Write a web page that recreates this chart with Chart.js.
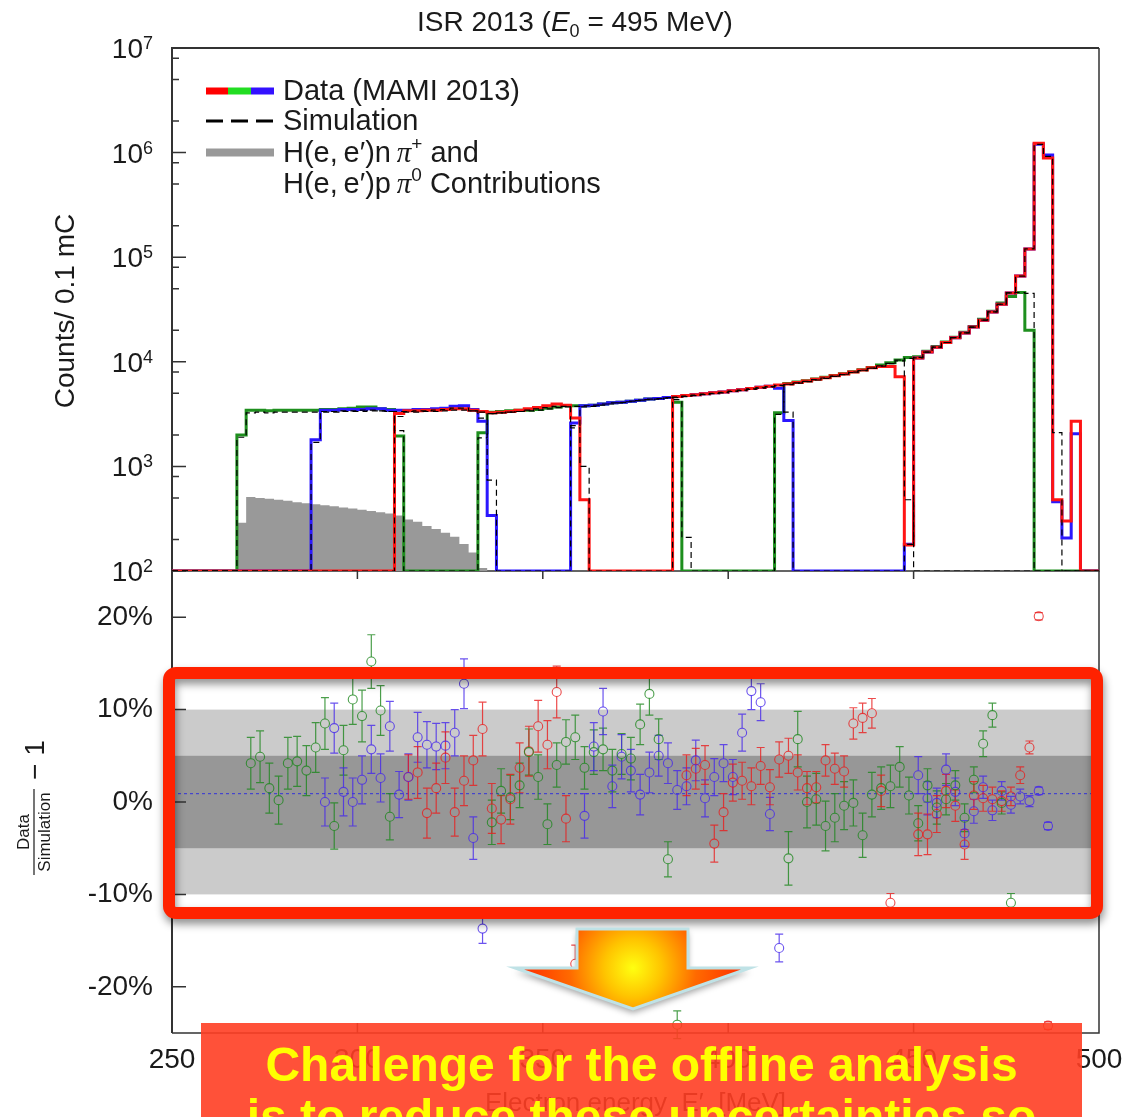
<!DOCTYPE html>
<html>
<head>
<meta charset="utf-8">
<script src="https://cdn.jsdelivr.net/npm/chart.js@4.4.0/dist/chart.umd.min.js"></script>
<style>
  html, body { margin: 0; padding: 0; background: #fff; }
  #page { position: relative; width: 1144px; height: 1117px; overflow: hidden; background: #fff; }
  #spectrum { position: absolute; left: 0; top: 0; }
  #ratio { position: absolute; left: 0; top: 560px; }
  #banner {
    position: absolute; left: 201px; top: 1023px; width: 881px; height: 130px;
    box-sizing: border-box; padding-top: 16px;
    background: rgba(255, 62, 36, 0.9);
    color: #ffff00; font: bold 48px 'Liberation Sans', Arial, sans-serif;
    line-height: 52px; text-align: center; white-space: nowrap;
  }
</style>
</head>
<body>
<div id="page">
  <canvas id="spectrum" width="1144" height="600"></canvas>
  <canvas id="ratio" width="1144" height="557"></canvas>
  <div id="banner">Challenge for the offline analysis<br>is to reduce these uncertainties so</div>
</div>
<script>
// ---- binning / axes ----
const E_MIN = 250, E_MAX = 500, BIN = 2.5;   // MeV
const COUNT_FLOOR = 100;                      // empty bins sit on the bottom of the log axis
const xTicks = [300, 350, 400, 450];
const decades = [2, 3, 4, 5, 6, 7];
const minorMantissas = [2, 5, 8];
const ratioTicks = [-20, -10, 0, 10, 20];
const outerBand = 10, innerBand = 5;          // systematic bands (%)
const ratioRef = 0.9;                         // dotted reference line (%)

// ---- counts per 2.5 MeV bin: [low edge of first bin, counts] per spectrometer setting ----
const redCounts = [
  [310, [3200, 3400, 3400, 3450, 3450, 3500, 3550, 3550, 3450, 3350, 3250, 3300, 3350, 3450, 3550, 3650, 3800, 3950, 3850, 2900, 480]],
  [385, [4650, 4750, 4850, 4950, 5050, 5150, 5300, 5400, 5550, 5700, 5850, 6000, 6150, 6350, 6550, 6800, 7050, 7350, 7650, 8000, 8350, 8750, 9000, 9000, 7200]],
  [447.5, [177, 10900, 12400, 13800, 15300, 17000, 18900, 21500, 25000, 30000, 35500, 45500, 66000, 120000, 1230000, 890000, 480, 300, 2700]]
];
const greenCounts = [
  [267.5, [2000, 3450, 3450, 3400, 3450, 3450, 3450, 3450, 3450, 3500, 3500, 3550, 3600, 3700, 3700, 3550, 3500, 1950]],
  [332.5, [2100, 3300, 3350, 3400, 3450, 3450, 3500, 3600, 3700, 3800, 3800, 3800, 3850, 3950, 4050, 4100, 4200, 4300, 4400, 4450, 4550, 4100]],
  [412.5, [3250, 6200, 6400, 6600, 6850, 7100, 7400, 7700, 8050, 8400, 8800, 9300, 9800, 10400, 11000, 11200, 12600, 14000, 15500, 17200, 19200, 21800, 25500, 30500, 36500, 42000, 46000, 20000]]
];
const blueCounts = [
  [287.5, [1800, 3450, 3450, 3500, 3500, 3500, 3550, 3550, 3450, 3450, 3450, 3500, 3500, 3550, 3600, 3750, 3800, 3500, 2700, 340]],
  [357.5, [2600, 3800, 3850, 3950, 4050, 4100, 4200, 4300, 4400, 4450, 4550, 4650, 4750, 4850, 4950, 5050, 5150, 5300, 5400, 5550, 5700, 5850, 5600, 2750]],
  [447.5, [180, 10900, 12400, 13800, 15300, 17000, 18900, 21500, 25000, 30000, 35500, 45500, 66000, 120000, 1200000, 950000, 460, 207, 2050]]
];
const simRedCounts = [
  [310, [3000, 3300, 3300, 3350, 3350, 3400, 3450, 3450, 3400, 3300, 3200, 3250, 3300, 3350, 3450, 3550, 3650, 3750, 3750, 2330, 1000]],
  [385, [4550, 4650, 4750, 4850, 4950, 5050, 5200, 5300, 5450, 5600, 5750, 5900, 6050, 6250, 6450, 6700, 6950, 7250, 7550, 7900, 8250, 8650, 9100, 9600, 10400, 480]]
];
const simGreenCounts = [
  [267.5, [1900, 3250, 3300, 3250, 3300, 3300, 3300, 3300, 3300, 3350, 3350, 3400, 3400, 3450, 3450, 3400, 3350, 2200]],
  [332.5, [1870, 3200, 3250, 3300, 3350, 3400, 3450, 3550, 3650, 3700, 3750, 3800, 3850, 3950, 4050, 4100, 4200, 4300, 4400, 4450, 4550, 4350, 210]],
  [412.5, [3150, 6100, 6300, 6500, 6750, 7000, 7300, 7600, 7950, 8300, 8700, 9150, 9650, 10200, 10800, 11000, 12400, 13800, 15300, 17000, 18900, 21500, 25000, 30000, 35500, 45500, 46000, 45000]]
];
const simBlueCounts = [
  [287.5, [1700, 3300, 3300, 3350, 3350, 3350, 3400, 3400, 3350, 3350, 3350, 3400, 3400, 3450, 3500, 3600, 3600, 3400, 2900, 740]],
  [357.5, [2450, 3700, 3750, 3850, 3950, 4050, 4150, 4250, 4350, 4400, 4500, 4600, 4700, 4800, 4900, 5000, 5100, 5250, 5350, 5500, 5650, 5800, 5950, 3300]],
  [447.5, [180, 10900, 12400, 13800, 15300, 17000, 18900, 21500, 25000, 30000, 35500, 45500, 66000, 120000, 1200000, 920000, 2100]]
];
const pionCounts = [
  [267.5, [290, 510, 500, 490, 480, 470, 455, 445, 435, 425, 415, 405, 395, 385, 375, 365, 355, 340, 310, 296, 270, 252, 232, 212, 181, 150, 107]]
];

// ---- Data/Simulation - 1 (%): [centre of first bin, values, errors] ----
const redRatio = [
  [313.75, [2.7, 3.2, -1.2, 1.5, 4.8, -1.1, 2.3, 4.5, 7.9, -0.7, -1.9, 0.3, 3.7, 5.5, 8.2, 6.2, 11.9, -1.8, -17.5],
           [2.4, 2.8, 2.7, 2.7, 2.8, 2.6, 2.7, 2.7, 2.9, 2.7, 2.6, 2.7, 2.7, 2.7, 2.8, 2.6, 2.8, 2.5, 2.0]],
  [388.75, [2.9, 3.6, 4.0, -4.5, -1.1, 2.1, 2.3, 1.7, 3.9, 1.6, 4.6, 5.0, 3.2, 1.5, 1.6, 4.5, 3.6, 3.3, 8.5, 9.1, 9.6, 1.2, -10.9],
           [2.2, 2.2, 2.1, 2.0, 2.0, 2.0, 2.0, 2.0, 2.0, 1.9, 1.9, 1.9, 1.9, 1.8, 1.7, 1.7, 1.7, 1.7, 1.7, 1.6, 1.6, 1.7, 1.0]],
  [451.25, [-3.5, -3.5, -1.3, 1.2, -0.4, -4.6, 0.7, 0.4, 0.3, 0.1, 0.6, 2.9, 5.9, 20.1, -24.2],
           [2.3, 2.2, 2.0, 1.8, 1.7, 1.6, 1.5, 1.4, 1.3, 1.1, 1.0, 0.9, 0.7, 0.4, 0.4]]
];
const greenRatio = [
  [271.25, [4.2, 4.9, 1.5, 0.2, 4.2, 4.4, 3.4, 5.9, 8.5, -2.6, 5.6, 11.1, 9.3, 15.2, 9.9, -1.6],
           [2.8, 2.8, 2.7, 2.6, 2.8, 2.7, 2.7, 2.7, 2.8, 2.5, 2.7, 2.7, 2.8, 2.9, 2.7, 2.5]],
  [336.25, [-2.2, 1.2, 0.5, 1.8, 5.4, 2.7, -2.4, 4.0, 6.5, 7.0, 3.7, 5.4, 5.7, 3.4, 5.2, 4.7, 8.4, 11.7, 6.8, -6.2, -24.1],
           [2.4, 2.4, 2.4, 2.4, 2.5, 2.4, 2.2, 2.4, 2.4, 2.4, 2.3, 2.4, 2.3, 2.3, 2.2, 2.3, 2.2, 2.3, 2.2, 1.9, 1.5]],
  [416.25, [-6.1, 6.8, 0.0, 0.3, -2.6, -1.7, -0.4, -0.1, -3.6, 0.8, 1.5, 1.7, 3.8, 0.7, -2.3, 1.8, -0.6, 0.3, 1.8, -1.7, 2.4, 6.3, 9.4, -0.1, -10.9],
           [2.9, 3.0, 2.8, 2.8, 2.7, 2.6, 2.6, 2.5, 2.4, 2.4, 2.3, 2.3, 2.2, 2.0, 1.9, 1.8, 1.8, 1.7, 1.6, 1.5, 1.4, 1.4, 1.3, 1.2, 1.0]]
];
const blueRatio = [
  [291.25, [0.0, 8.0, 1.1, 0.0, 2.4, 5.7, 2.6, 8.2, 0.8, 2.7, 7.0, 6.2, 6.0, 6.1, 7.5, 12.8, -3.9, -13.7],
           [2.6, 2.7, 2.6, 2.6, 2.6, 2.6, 2.6, 2.7, 2.5, 2.5, 2.7, 2.5, 2.5, 2.5, 2.5, 2.7, 2.3, 1.6]],
  [361.25, [-1.5, 6.0, 9.8, 1.7, 4.9, 3.4, 0.8, 3.2, 5.0, 4.2, 1.3, 1.7, 4.5, 0.4, 2.7, 4.2, 2.7, 7.5, 12.0, 10.8, -1.3, -15.8],
           [2.4, 2.6, 2.5, 2.3, 2.4, 2.3, 2.2, 2.2, 2.2, 2.2, 2.1, 2.0, 2.2, 2.0, 2.0, 2.0, 1.9, 2.0, 2.0, 2.0, 1.8, 1.5]],
  [451.25, [2.9, 0.4, -0.1, 3.5, 1.1, -3.4, -1.0, 1.6, -0.9, 1.2, -0.3, 0.6, 0.1, 1.2, -2.6],
           [2.0, 1.8, 1.6, 1.7, 1.5, 1.4, 1.3, 1.2, 1.1, 1.0, 0.9, 0.8, 0.6, 0.4, 0.4]]
];

// ---- styling ----
const SANS = "'Liberation Sans', Arial, Helvetica, sans-serif";
const SERIF = "'Liberation Serif', 'Times New Roman', serif";
const INK = '#1a1a1a';
const RED = '#ff1414', GREEN = '#1e8f1e', BLUE = '#2b17ff';
const MARKER_R = 4.5, CAP = 4;
const RATIO_TOP = 560;   // page offset of the ratio canvas

// step histogram points, one per bin low edge plus the closing edge
function histPoints(segments) {
  const n = Math.round((E_MAX - E_MIN) / BIN);
  const vals = new Array(n).fill(COUNT_FLOOR);
  segments.forEach(([lo, counts]) => {
    const first = Math.round((lo - E_MIN) / BIN);
    counts.forEach((c, k) => { vals[first + k] = c; });
  });
  const pts = vals.map((v, i) => ({ x: E_MIN + i * BIN, y: v }));
  pts.push({ x: E_MAX, y: vals[n - 1] });
  return pts;
}

function ratioPoints(segments) {
  const pts = [];
  segments.forEach(([centre, vals, errs]) => {
    vals.forEach((v, k) => pts.push({ x: centre + k * BIN, y: v, e: errs[k] }));
  });
  return pts;
}

// draws mixed-font text pieces on one baseline
function drawRuns(ctx, runs, x, y, align) {
  let total = 0;
  runs.forEach(r => { ctx.font = r.font; r.w = ctx.measureText(r.text).width; total += r.w; });
  let cx = align === 'center' ? x - total / 2 : align === 'right' ? x - total : x;
  ctx.textAlign = 'left';
  ctx.textBaseline = 'alphabetic';
  runs.forEach(r => { ctx.font = r.font; ctx.fillText(r.text, cx, y + (r.dy || 0)); cx += r.w; });
}

const f = (size, style) => `${style ? style + ' ' : ''}${size}px ${SANS}`;

const spectrumDecor = {
  id: 'spectrumDecor',
  beforeDatasetsDraw(chart) {
    const { ctx, chartArea: a, scales: { y } } = chart;
    ctx.save();
    ctx.strokeStyle = '#333';
    ctx.lineWidth = 2;
    ctx.beginPath();
    ctx.moveTo(a.left, a.bottom); ctx.lineTo(a.left, a.top); ctx.lineTo(a.right, a.top);
    ctx.stroke();
    ctx.lineWidth = 1.5;
    ctx.beginPath();
    ctx.moveTo(a.right, a.top); ctx.lineTo(a.right, a.bottom); ctx.lineTo(a.left, a.bottom);
    ctx.stroke();
    // inward ticks on the log axis
    ctx.lineWidth = 1.5;
    ctx.beginPath();
    decades.forEach(d => {
      const py = y.getPixelForValue(Math.pow(10, d));
      ctx.moveTo(a.left, py); ctx.lineTo(a.left + 14, py);
      if (d < 7) {
        minorMantissas.forEach(m => {
          const my = y.getPixelForValue(m * Math.pow(10, d));
          ctx.moveTo(a.left, my); ctx.lineTo(a.left + 7, my);
        });
      }
    });
    ctx.stroke();
    ctx.restore();
  },
  afterDraw(chart) {
    const { ctx, chartArea: a, scales: { y } } = chart;
    ctx.save();
    ctx.fillStyle = INK;

    // title
    drawRuns(ctx, [
      { text: 'ISR 2013 (', font: f(28) },
      { text: 'E', font: f(28, 'italic') },
      { text: '0', font: f(18), dy: 6 },
      { text: ' = 495 MeV)', font: f(28) }
    ], 575, 31, 'center');

    // decade labels
    decades.forEach(d => {
      const py = y.getPixelForValue(Math.pow(10, d));
      drawRuns(ctx, [
        { text: '10', font: f(28) },
        { text: String(d), font: f(18), dy: -9 }
      ], a.left - 19, py + 10, 'right');
    });

    // axis title
    ctx.save();
    ctx.translate(66, 311);
    ctx.rotate(-Math.PI / 2);
    ctx.font = f(28);
    ctx.textAlign = 'center';
    ctx.textBaseline = 'middle';
    ctx.fillText('Counts/ 0.1 mC', 0, 0);
    ctx.restore();

    // legend
    const lx0 = 206, lx1 = 274, tx = 283;
    ctx.lineCap = 'butt';
    ctx.lineWidth = 7;
    [['#ff0000', 206, 228], ['#22dd22', 228, 251], ['#3311ff', 251, 274]].forEach(([c, x0, x1]) => {
      ctx.strokeStyle = c;
      ctx.beginPath(); ctx.moveTo(x0, 91); ctx.lineTo(x1, 91); ctx.stroke();
    });
    ctx.strokeStyle = '#000';
    ctx.lineWidth = 3;
    ctx.setLineDash([17, 8]);
    ctx.beginPath(); ctx.moveTo(lx0, 121); ctx.lineTo(lx1, 121); ctx.stroke();
    ctx.setLineDash([]);
    ctx.strokeStyle = '#999';
    ctx.lineWidth = 8;
    ctx.beginPath(); ctx.moveTo(lx0, 152.5); ctx.lineTo(lx1, 152.5); ctx.stroke();

    ctx.fillStyle = INK;
    drawRuns(ctx, [{ text: 'Data (MAMI 2013)', font: f(29) }], tx, 100, 'left');
    drawRuns(ctx, [{ text: 'Simulation', font: f(29) }], tx, 130, 'left');
    drawRuns(ctx, [
      { text: 'H(e,\u2009e\u2032)n\u2009', font: f(29) },
      { text: '\u03c0', font: `italic 29px ${SERIF}` },
      { text: '+', font: f(19), dy: -12 },
      { text: ' and', font: f(29) }
    ], tx, 162, 'left');
    drawRuns(ctx, [
      { text: 'H(e,\u2009e\u2032)p\u2009', font: f(29) },
      { text: '\u03c0', font: `italic 29px ${SERIF}` },
      { text: '0', font: f(19), dy: -12 },
      { text: ' Contributions', font: f(29) }
    ], tx, 193, 'left');
    ctx.restore();
  }
};

const ratioDecor = {
  id: 'ratioDecor',
  beforeDatasetsDraw(chart) {
    const { ctx, chartArea: a, scales: { x, y } } = chart;
    ctx.save();
    // systematic bands
    const o1 = y.getPixelForValue(outerBand), o2 = y.getPixelForValue(-outerBand);
    const i1 = y.getPixelForValue(innerBand), i2 = y.getPixelForValue(-innerBand);
    ctx.fillStyle = '#cbcbcb';
    ctx.fillRect(a.left, o1, a.right - a.left, o2 - o1);
    ctx.fillStyle = '#979797';
    ctx.fillRect(a.left, i1, a.right - a.left, i2 - i1);
    // reference line
    const ry = y.getPixelForValue(ratioRef);
    ctx.strokeStyle = '#3434d8';
    ctx.lineWidth = 1;
    ctx.setLineDash([3, 3]);
    ctx.beginPath(); ctx.moveTo(a.left, ry); ctx.lineTo(a.right, ry); ctx.stroke();
    ctx.setLineDash([]);
    // frame
    ctx.strokeStyle = '#333';
    ctx.lineWidth = 2;
    ctx.beginPath(); ctx.moveTo(a.left, a.top); ctx.lineTo(a.left, a.bottom); ctx.stroke();
    ctx.lineWidth = 1.5;
    ctx.beginPath(); ctx.moveTo(a.left, a.bottom); ctx.lineTo(a.right, a.bottom); ctx.lineTo(a.right, a.top); ctx.stroke();
    // ticks
    ctx.beginPath();
    ratioTicks.forEach(v => {
      const py = y.getPixelForValue(v);
      ctx.moveTo(a.left, py); ctx.lineTo(a.left + 14, py);
    });
    xTicks.forEach(v => {
      const px = x.getPixelForValue(v);
      ctx.moveTo(px, a.top); ctx.lineTo(px, a.top + 8);
      ctx.moveTo(px, a.bottom); ctx.lineTo(px, a.bottom - 10);
    });
    ctx.stroke();
    // error bars, leaving the marker itself open
    ctx.lineWidth = 1.2;
    chart.data.datasets.forEach(ds => {
      ctx.strokeStyle = ds.borderColor;
      ctx.beginPath();
      ds.data.forEach(p => {
        const px = x.getPixelForValue(p.x);
        const py = y.getPixelForValue(p.y);
        const top = y.getPixelForValue(p.y + p.e);
        const bot = y.getPixelForValue(p.y - p.e);
        if (py - top > MARKER_R) {
          ctx.moveTo(px, top); ctx.lineTo(px, py - MARKER_R);
          ctx.moveTo(px, py + MARKER_R); ctx.lineTo(px, bot);
        }
        ctx.moveTo(px - CAP, top); ctx.lineTo(px + CAP, top);
        ctx.moveTo(px - CAP, bot); ctx.lineTo(px + CAP, bot);
      });
      ctx.stroke();
    });
    ctx.restore();
  },
  afterDraw(chart) {
    const { ctx } = chart;
    ctx.save();
    ctx.translate(0, -RATIO_TOP);   // page coordinates from here on

    // y title: Data / Simulation - 1
    ctx.save();
    ctx.translate(34, 832);
    ctx.rotate(-Math.PI / 2);
    ctx.fillStyle = INK;
    ctx.textAlign = 'center';
    ctx.textBaseline = 'alphabetic';
    ctx.font = f(17);
    ctx.fillText('Data', 0, -5);
    ctx.fillText('Simulation', 0, 16);
    ctx.strokeStyle = INK;
    ctx.lineWidth = 1.2;
    ctx.beginPath(); ctx.moveTo(-43, 0); ctx.lineTo(43, 0); ctx.stroke();
    ctx.textAlign = 'left';
    ctx.font = f(28);
    ctx.fillText('\u2212 1', 52, 10);
    ctx.restore();

    // highlight frame around the systematic bands
    ctx.save();
    ctx.shadowColor = 'rgba(0, 0, 0, 0.45)';
    ctx.shadowBlur = 8;
    ctx.shadowOffsetX = 1;
    ctx.shadowOffsetY = 5;
    ctx.strokeStyle = '#ff2200';
    ctx.lineWidth = 12;
    ctx.beginPath();
    ctx.roundRect(169, 673, 928, 240, 7);
    ctx.stroke();
    ctx.restore();

    // downward arrow
    ctx.save();
    const grad = ctx.createRadialGradient(633, 968, 0, 633, 968, 115);
    grad.addColorStop(0, '#ffff10');
    grad.addColorStop(0.25, '#ffc400');
    grad.addColorStop(0.55, '#ff6a00');
    grad.addColorStop(1, '#ff2800');
    ctx.beginPath();
    ctx.moveTo(577, 929); ctx.lineTo(688, 929); ctx.lineTo(688, 968); ctx.lineTo(750, 968);
    ctx.lineTo(633, 1009); ctx.lineTo(515, 968); ctx.lineTo(577, 968);
    ctx.closePath();
    ctx.shadowColor = 'rgba(0, 0, 0, 0.35)';
    ctx.shadowBlur = 6;
    ctx.shadowOffsetY = 4;
    ctx.fillStyle = grad;
    ctx.fill();
    ctx.shadowColor = 'transparent';
    ctx.strokeStyle = '#bfe2e6';
    ctx.lineWidth = 3;
    ctx.lineJoin = 'miter';
    ctx.stroke();
    ctx.restore();

    ctx.restore();
  }
};

const histLine = (label, segments, color, width, order, extra) => Object.assign({
  label, data: histPoints(segments), borderColor: color, borderWidth: width,
  stepped: true, pointRadius: 0, fill: false, order
}, extra || {});

new Chart(document.getElementById('spectrum'), {
  type: 'line',
  data: {
    datasets: [
      histLine('Simulation', simRedCounts, '#000', 1.2, 0, { borderDash: [6, 4] }),
      histLine('Simulation', simGreenCounts, '#000', 1.2, 0, { borderDash: [6, 4] }),
      histLine('Simulation', simBlueCounts, '#000', 1.2, 0, { borderDash: [6, 4] }),
      histLine('Data', redCounts, RED, 3, 1),
      histLine('Data', blueCounts, BLUE, 3, 2),
      histLine('Data', greenCounts, GREEN, 3, 3),
      histLine('Pion contributions', pionCounts, 'rgba(0,0,0,0)', 0, 4, { fill: 'start', backgroundColor: '#999999' })
    ]
  },
  options: {
    responsive: false,
    animation: false,
    layout: { padding: { left: 172, right: 45, top: 48, bottom: 29 } },
    scales: {
      x: { type: 'linear', min: E_MIN, max: E_MAX, display: false },
      y: { type: 'logarithmic', min: 100, max: 1e7, display: false }
    },
    plugins: { legend: { display: false }, tooltip: { enabled: false } }
  },
  plugins: [spectrumDecor]
});

const ratioSet = (label, segments, color) => ({
  label, data: ratioPoints(segments), borderColor: color, backgroundColor: 'rgba(0,0,0,0)',
  pointStyle: 'circle', pointRadius: MARKER_R, pointBorderWidth: 1.1
});

new Chart(document.getElementById('ratio'), {
  type: 'scatter',
  data: {
    datasets: [
      ratioSet('green', greenRatio, 'rgba(30, 135, 30, 0.8)'),
      ratioSet('blue', blueRatio, 'rgba(70, 40, 235, 0.8)'),
      ratioSet('red', redRatio, 'rgba(232, 30, 30, 0.8)')
    ]
  },
  options: {
    responsive: false,
    animation: false,
    layout: { padding: { left: 0, right: 45, top: 11, bottom: 0 } },
    scales: {
      x: {
        type: 'linear', min: E_MIN, max: E_MAX,
        ticks: { stepSize: 50, color: INK, font: { family: SANS, size: 28 }, padding: 10, maxRotation: 0 },
        grid: { display: false, drawTicks: false },
        border: { display: false },
        title: {
          display: true, text: 'Electron energy  E\u2032  [MeV]', color: INK,
          font: { family: SANS, size: 26, lineHeight: 1 }, padding: 0
        },
        afterFit(scale) { scale.height = 84; scale.paddingLeft = 0; scale.paddingRight = 0; }
      },
      y: {
        min: -25, max: 25,
        afterBuildTicks(scale) { scale.ticks = ratioTicks.map(v => ({ value: v })); },
        ticks: { color: INK, font: { family: SANS, size: 28 }, padding: 19, callback: v => v + '%' },
        grid: { display: false, drawTicks: false },
        border: { display: false },
        afterFit(scale) { scale.width = 172; scale.paddingTop = 0; scale.paddingBottom = 0; }
      }
    },
    plugins: { legend: { display: false }, tooltip: { enabled: false } }
  },
  plugins: [ratioDecor]
});
</script>
</body>
</html>
